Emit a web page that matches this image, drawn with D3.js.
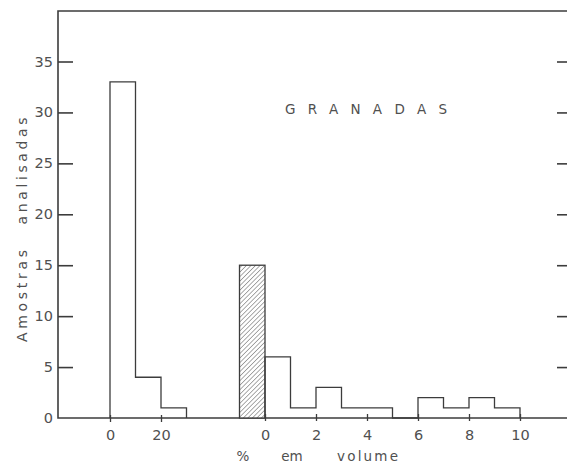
<!DOCTYPE html>
<html>
<head>
<meta charset="utf-8">
<script src="https://cdn.jsdelivr.net/npm/d3@7"></script>
<style>
  body { margin: 0; background: #fff; }
  svg text { font-family: "DejaVu Sans", sans-serif; fill: #505050; }
</style>
</head>
<body>
<div id="chart"></div>
<script>
// left group: class edges and counts (0-10, 10-20, 20-30)
var leftEdges = [0, 10, 20, 30];
var leftCounts = [33, 4, 1];
var leftTicks = [0, 20];

// right group: hatched class (-1..0), then 0..10
var hatchEdges = [-1, 0];
var hatchCount = 15;
var rightEdges = [0, 1, 2, 3, 4, 5, 6, 7, 8, 9, 10];
var rightCounts = [6, 1, 3, 1, 1, 0, 2, 1, 2, 1];
var rightTicks = [0, 2, 4, 6, 8, 10];

var yTicks = [0, 5, 10, 15, 20, 25, 30, 35];

var W = 567, H = 470;
var ink = "#3c3c3c";

var svg = d3.select("#chart").append("svg")
    .attr("width", W)
    .attr("height", H);

var defs = svg.append("defs");
var pat = defs.append("pattern")
    .attr("id", "hatch")
    .attr("patternUnits", "userSpaceOnUse")
    .attr("width", 3.2)
    .attr("height", 3.2)
    .attr("patternTransform", "rotate(45)");
pat.append("rect").attr("width", 3.2).attr("height", 3.2).attr("fill", "#fff");
pat.append("line")
    .attr("x1", 0).attr("y1", 0).attr("x2", 0).attr("y2", 3.2)
    .attr("stroke", "#666").attr("stroke-width", 1.1);

// scales
var y = d3.scaleLinear().domain([0, 35]).range([418, 61.5]);
var xa = d3.scaleLinear().domain([0, 20]).range([110, 161]);
var xb = d3.scaleLinear().domain([0, 10]).range([265, 520]);

var frameL = 58, frameT = 11, frameR = 568;

// frame
svg.append("path")
    .attr("d", "M" + frameR + "," + frameT + "H" + frameL + "V" + y(0) + "H" + W)
    .attr("fill", "none")
    .attr("stroke", ink)
    .attr("stroke-width", 1.6);

// y axis, ticks pointing inward
var yAxis = svg.append("g")
    .attr("transform", "translate(" + frameL + ",0)")
    .call(d3.axisRight(y).tickValues(yTicks.slice(1)).tickSize(15).tickFormat(""));
yAxis.select(".domain").remove();
yAxis.selectAll("line").attr("stroke", ink).attr("stroke-width", 1.6);

// y tick labels on the left of the spine
svg.selectAll(".ylab")
    .data(yTicks)
    .enter().append("text")
    .attr("class", "ylab")
    .attr("x", 53)
    .attr("y", function(d) { return y(d) + 5; })
    .attr("text-anchor", "end")
    .style("font-size", "14.5px")
    .text(function(d) { return d; });

// right side ticks
var yRight = svg.append("g")
    .attr("transform", "translate(" + frameR + ",0)")
    .call(d3.axisLeft(y).tickValues(yTicks.slice(1)).tickSize(11).tickFormat(""));
yRight.select(".domain").remove();
yRight.selectAll("line").attr("stroke", ink).attr("stroke-width", 1.6);

// step outline of a histogram
function stepPoints(edges, counts) {
    var pts = [{x: edges[0], n: 0}];
    counts.forEach(function(c, i) { pts.push({x: edges[i], n: c}); });
    pts.push({x: edges[edges.length - 1], n: 0});
    return pts;
}

function outline(xs) {
    return d3.line()
        .x(function(d) { return xs(d.x); })
        .y(function(d) { return y(d.n); })
        .curve(d3.curveStepAfter);
}

svg.append("path")
    .datum(stepPoints(leftEdges, leftCounts))
    .attr("d", outline(xa))
    .attr("fill", "none")
    .attr("stroke", ink)
    .attr("stroke-width", 1.3);

svg.append("rect")
    .attr("x", xb(hatchEdges[0]))
    .attr("y", y(hatchCount))
    .attr("width", xb(hatchEdges[1]) - xb(hatchEdges[0]))
    .attr("height", y(0) - y(hatchCount))
    .attr("fill", "url(#hatch)")
    .attr("stroke", ink)
    .attr("stroke-width", 1.3);

svg.append("path")
    .datum(stepPoints(rightEdges, rightCounts))
    .attr("d", outline(xb))
    .attr("fill", "none")
    .attr("stroke", ink)
    .attr("stroke-width", 1.3);

// x axes
var xaAxis = svg.append("g")
    .attr("transform", "translate(0," + (y(0) - 3) + ")")
    .call(d3.axisBottom(xa).tickValues(leftTicks).tickSize(7).tickPadding(8).tickFormat(d3.format("d")));
var xbAxis = svg.append("g")
    .attr("transform", "translate(0," + (y(0) - 4) + ")")
    .call(d3.axisBottom(xb).tickValues(rightTicks).tickSize(7).tickPadding(9).tickFormat(d3.format("d")));
[xaAxis, xbAxis].forEach(function(g) {
    g.select(".domain").remove();
    g.selectAll("line").attr("stroke", ink).attr("stroke-width", 1.3);
    g.selectAll("text")
        .style("font-size", "14.5px")
        .style("font-family", "'DejaVu Sans', sans-serif")
        .attr("fill", "#505050");
});

// title
svg.append("text")
    .attr("x", 285)
    .attr("y", 114)
    .attr("textLength", 162)
    .attr("lengthAdjust", "spacing")
    .style("font-size", "13.5px")
    .text("GRANADAS");

// axis titles
svg.append("text")
    .attr("x", 243).attr("y", 461)
    .attr("text-anchor", "middle")
    .style("font-size", "13.5px")
    .text("%");
svg.append("text")
    .attr("x", 292).attr("y", 461)
    .attr("text-anchor", "middle")
    .style("font-size", "13.5px")
    .text("em");
svg.append("text")
    .attr("x", 337).attr("y", 461)
    .attr("textLength", 61)
    .attr("lengthAdjust", "spacing")
    .style("font-size", "13.5px")
    .text("volume");

var yTitle = [["Amostras", 296, 92], ["analisadas", 171, 107]];
svg.selectAll(".yt")
    .data(yTitle)
    .enter().append("text")
    .attr("class", "yt")
    .attr("transform", function(d) { return "translate(27," + (d[1] + d[2] / 2) + ") rotate(-90)"; })
    .attr("textLength", function(d) { return d[2]; })
    .attr("lengthAdjust", "spacing")
    .style("font-size", "14px")
    .text(function(d) { return d[0]; });
</script>
</body>
</html>
